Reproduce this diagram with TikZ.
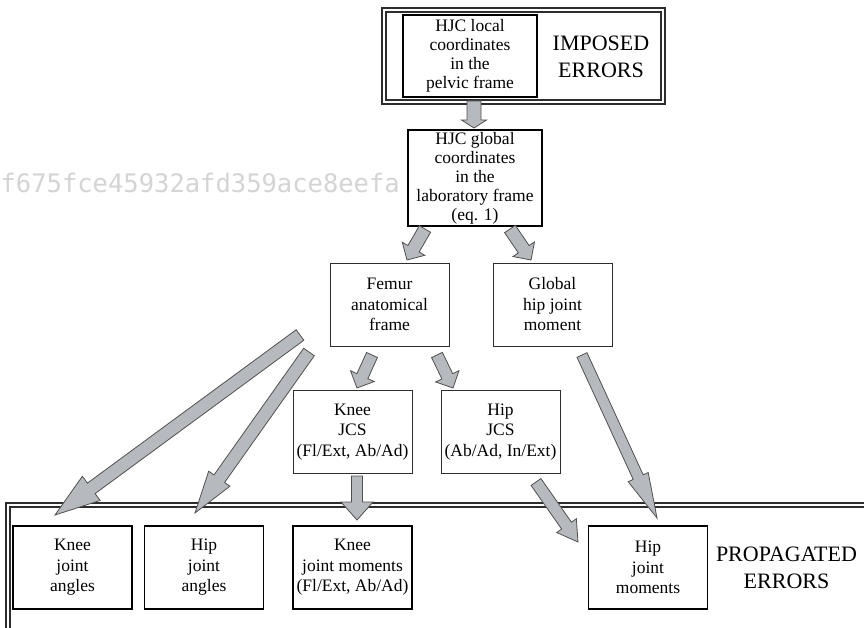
\documentclass[tikz,border=0pt]{standalone}
\usepackage{fontspec}
\setmainfont{Liberation Serif}
\newfontfamily\hashfont{DejaVu Sans Mono}
\usetikzlibrary{calc}

\definecolor{arrowfill}{RGB}{182,186,191}
\definecolor{arrowedge}{RGB}{80,80,80}
\definecolor{boxedge}{RGB}{45,45,45}
\definecolor{hashgray}{RGB}{212,212,212}

\tikzset{
  box/.style={draw=boxedge, line width=1pt, align=center, inner sep=0pt,
    minimum width=119pt, minimum height=83pt,
    font=\fontsize{17.5}{20.5}\selectfont},
  heavybox/.style={box, draw=black, line width=1.8pt},
  caption/.style={align=center, inner sep=0pt, font=\fontsize{22}{27}\selectfont},
  blockarrow/.style={fill=arrowfill, draw=arrowedge, line width=0.8pt, line join=miter},
  framepart/.style={draw=boxedge, line width=1.1pt},
}

% block arrow: from, to, shaft half width, head half width, head length
\newcommand\blockarrow[5]{%
  \coordinate (ba-h) at ($(#2)!#5!(#1)$);
  \filldraw[blockarrow]
    ($(#1)!#3!90:(#2)$) -- ($(ba-h)!#3!-90:(#1)$) -- ($(ba-h)!#4!-90:(#1)$) -- (#2)
    -- ($(ba-h)!#4!90:(#1)$) -- ($(ba-h)!#3!90:(#1)$) -- ($(#1)!#3!-90:(#2)$) -- cycle;
}

\begin{document}
\begin{tikzpicture}[x=1pt, y=-1pt]
\useasboundingbox (0,0) rectangle (864,628);

% faint hash string
\node[anchor=base east, inner sep=0pt, text=hashgray,
      font=\hashfont\fontsize{25.5}{25.5}\selectfont] (hash) at (400,193)
      {f675fce45932afd359ace8eefa};

% double frame round the imposed errors
\draw[framepart] (382,8) rectangle (665,104);
\draw[framepart] (386,12) rectangle (661,100);

% open double frame round the propagated errors
\draw[framepart] (864,503) -- (6,503) -- (6,628);
\draw[framepart] (864,507) -- (10,507) -- (10,628);

% boxes
\node[heavybox, minimum width=134pt, minimum height=82pt, font=\fontsize{17.5}{19}\selectfont]
  (hjcl) at (470,56) {HJC local\\coordinates\\in the\\pelvic frame};
\node[caption] (imposed) at (601,57) {IMPOSED\\ERRORS};

\node[heavybox, minimum width=134pt, minimum height=96pt, font=\fontsize{17.5}{19}\selectfont]
  (hjcg) at (475,178) {HJC global\\coordinates\\in the\\laboratory frame\\(eq. 1)};

\node[box] (femur) at (389.5,304.5) {Femur\\anatomical\\frame};
\node[box] (ghip)  at (552.5,304.5) {Global\\hip joint\\moment};

\node[box] (kjcs) at (352.5,432) {Knee\\JCS\\(Fl/Ext, Ab/Ad)};
\node[box] (hjcs) at (500.5,432) {Hip\\JCS\\(Ab/Ad, In/Ext)};

\node[heavybox] (kja) at (72.5,567.5) {Knee\\joint\\angles};
\node[heavybox] (hja) at (204,567.5)  {Hip\\joint\\angles};
\node[heavybox] (kjm) at (352.5,567.5) {Knee\\joint moments\\(Fl/Ext, Ab/Ad)};
\node[heavybox] (hjm) at (648,567.5) {Hip\\joint\\moments};
\node[caption] (propagated) at (786.5,568) {PROPAGATED\\ERRORS};

% arrow end points
\coordinate (a1s) at (474,101);   \coordinate (a1e) at (474,128);
\coordinate (a2s) at (425,229);   \coordinate (a2e) at (407,260);
\coordinate (a3s) at (510,229);   \coordinate (a3e) at (531,260);
\coordinate (a4s) at (372,355);   \coordinate (a4e) at (357,388);
\coordinate (a5s) at (437,355);   \coordinate (a5e) at (453,388);
\coordinate (a6s) at (300,335);   \coordinate (a6e) at (55,515);
\coordinate (a7s) at (309,352);   \coordinate (a7e) at (195,513);
\coordinate (a8s) at (357,476);   \coordinate (a8e) at (357,520);
\coordinate (a9s) at (536,482);   \coordinate (a9e) at (578,542);
\coordinate (a10s) at (582,355);  \coordinate (a10e) at (657,518);

% arrows
\blockarrow{a1s}{a1e}{7pt}{12.5pt}{8pt}
\blockarrow{a2s}{a2e}{6.5pt}{13pt}{13pt}
\blockarrow{a3s}{a3e}{6.5pt}{13pt}{13pt}
\blockarrow{a4s}{a4e}{6pt}{13pt}{13pt}
\blockarrow{a5s}{a5e}{6pt}{13pt}{13pt}
\blockarrow{a6s}{a6e}{6.5pt}{15pt}{45pt}
\blockarrow{a7s}{a7e}{6.5pt}{13pt}{42pt}
\blockarrow{a8s}{a8e}{5.5pt}{16pt}{18pt}
\blockarrow{a9s}{a9e}{6pt}{12pt}{20pt}
\blockarrow{a10s}{a10e}{5.5pt}{11pt}{45pt}
\end{tikzpicture}
\end{document}
